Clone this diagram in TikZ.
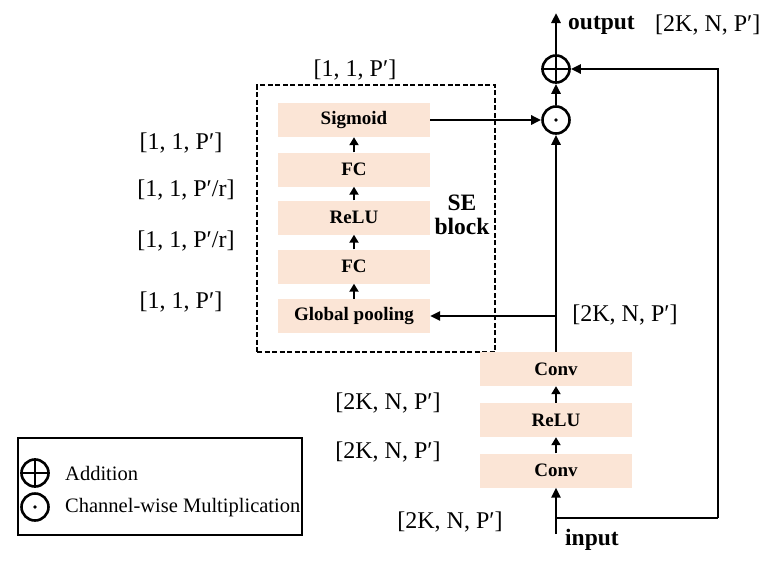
\documentclass[tikz,border=0pt]{standalone}
\usepackage{fontspec}
\setmainfont{Liberation Serif}
\usetikzlibrary{arrows.meta}
\definecolor{peach}{HTML}{FBE5D6}
\tikzset{
  blk/.style={fill=peach, minimum width=152pt, minimum height=34pt, inner sep=0pt, font=\fontsize{19}{21}\selectfont\bfseries},
  lbl/.style={font=\fontsize{24}{26}\selectfont, inner sep=0pt},
  main/.style={line width=2.6pt, -{Triangle[length=10pt,width=9pt]}},
  plainln/.style={line width=2.6pt},
  small/.style={line width=2.8pt, -{Triangle[length=8pt,width=9pt]}},
  opc/.style={circle, draw, line width=2.6pt, minimum size=27pt, inner sep=0pt},
}
\begin{document}
\begin{tikzpicture}[x=1pt,y=-1pt]
\useasboundingbox (0,0) rectangle (763,560);
% SE block
\node[draw, dash pattern=on 5pt off 2.5pt, line width=1.4pt, minimum width=238pt, minimum height=267pt, inner sep=0pt] (se) at (376,218.5) {};
\node[blk] (sig) at (354,120) {Sigmoid};
\node[blk] (fc2) at (354,169.5) {FC};
\node[blk] (relu1) at (354,217.5) {ReLU};
\node[blk] (fc1) at (354,266.5) {FC};
\node[blk] (gp) at (354,316) {Global pooling};
\draw[small] (gp.north) -- (fc1.south);
\draw[small] (fc1.north) -- (relu1.south);
\draw[small] (relu1.north) -- (fc2.south);
\draw[small] (fc2.north) -- (sig.south);
\node[font=\fontsize{23.5}{25}\selectfont\bfseries, align=center, inner sep=0pt] (setxt) at (462,215) {SE\\[-1pt]block};
% conv path
\node[blk] (conv2) at (556,369) {Conv};
\node[blk] (relu2) at (556,420) {ReLU};
\node[blk] (conv1) at (556,470.5) {Conv};
\draw[small] (conv1.north) -- (relu2.south);
\draw[small] (relu2.north) -- (conv2.south);
% operators
\node[opc] (mul) at (556,120) {};
\fill (mul.center) circle (1.9pt);
\node[opc] (add) at (556,69) {};
\draw[line width=2.6pt] (add.north) -- (add.south) (add.west) -- (add.east);
% connections
\coordinate (inp) at (556,534);
\coordinate (split) at (556,518);
\coordinate (cr) at (718,518);
\coordinate (gpin) at (556,316);
\coordinate (outp) at (556,13);
\draw[main] (inp) -- (conv1.south);
\draw[plainln] (split) -- (cr);
\draw[main] (cr) |- (add.east);
\draw[main] (conv2.north) -- (mul.south);
\draw[main] (gpin) -- (gp.east);
\draw[main] (sig.east) -- (mul.west);
\draw[main] (mul.north) -- (add.south);
\draw[main] (add.north) -- (outp);
% labels
\node[font=\fontsize{23.5}{25}\selectfont\bfseries, anchor=west, inner sep=0pt] (outtxt) at (568,25) {output};
\node[lbl, anchor=west] (outdim) at (655,25) {[2K, N, P′]};
\node[font=\fontsize{23.5}{25}\selectfont\bfseries, anchor=west, inner sep=0pt] (intxt) at (565,540) {input};
\node[lbl] (topdim) at (355,70) {[1, 1, P′]};
\node[lbl] (d1) at (181,143) {[1, 1, P′]};
\node[lbl] (d2) at (186,190) {[1, 1, P′/r]};
\node[lbl] (d3) at (186,241) {[1, 1, P′/r]};
\node[lbl] (d4) at (181,302) {[1, 1, P′]};
\node[lbl] (d5) at (625,315) {[2K, N, P′]};
\node[lbl] (d6) at (388,403) {[2K, N, P′]};
\node[lbl] (d7) at (388,452) {[2K, N, P′]};
\node[lbl] (d8) at (450,522) {[2K, N, P′]};
% legend
\node[draw, line width=2pt, minimum width=284pt, minimum height=97pt, inner sep=0pt] (leg) at (160,486.5) {};
\node[opc] (ladd) at (35,473) {};
\draw[line width=2.6pt] (ladd.north) -- (ladd.south) (ladd.west) -- (ladd.east);
\node[opc] (lmul) at (35,507) {};
\fill (lmul.center) circle (1.9pt);
\node[font=\fontsize{20.5}{22}\selectfont, anchor=west, inner sep=0pt] (laddt) at (65,473) {Addition};
\node[font=\fontsize{20.5}{22}\selectfont, anchor=west, inner sep=0pt] (lmult) at (65,508) {Channel-wise Multiplication};
\end{tikzpicture}
\end{document}
